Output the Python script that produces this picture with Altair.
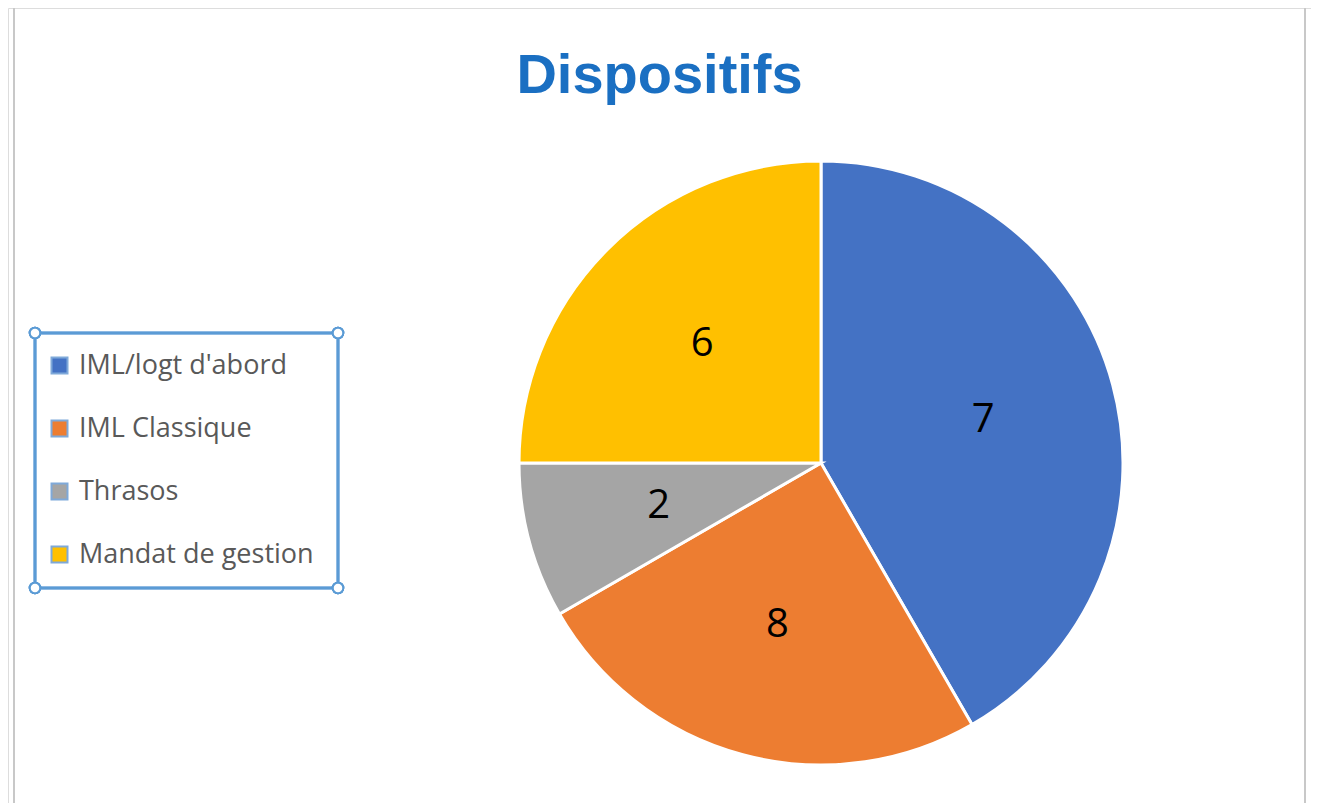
import altair as alt
import pandas as pd

categories = ["IML/logt d'abord", "IML Classique", "Thrasos", "Mandat de gestion"]
slice_values = [10, 6, 2, 6]
shown_labels = ["7", "8", "2", "6"]
colors = ["#4472C4", "#ED7D31", "#A5A5A5", "#FFC000"]

df = pd.DataFrame({
    "cat": categories,
    "value": slice_values,
    "label": shown_labels,
    "idx": list(range(len(categories))),
})

W, H = 1303, 795
CX, CY, R = 813, 455, 302

base = alt.Chart(df).encode(
    theta=alt.Theta("value:Q", stack=True),
    order=alt.Order("idx:Q"),
)

pie = base.mark_arc(outerRadius=R, stroke="white", strokeWidth=3).encode(
    x=alt.value(CX), y=alt.value(CY),
    color=alt.Color(
        "cat:N",
        scale=alt.Scale(domain=categories, range=colors),
        sort=categories,
        legend=alt.Legend(
            title=None, orient="none", legendX=38, legendY=344,
            symbolType="square", symbolSize=256,
            symbolStrokeColor="#7FA9D9", symbolStrokeWidth=2,
            labelFont="Open Sans", labelFontSize=27, labelColor="#595959",
            labelOffset=6, rowPadding=35, padding=0, labelLimit=400,
        ),
    ),
)

labels = base.mark_text(font="Open Sans", fontSize=40, color="black").encode(
    x=alt.value(CX), y=alt.value(CY),
    radius=alt.value(168),
    text="label:N",
)

frame = alt.Chart(df).mark_rect(fill=None, stroke="#C8C8C8", strokeWidth=2).encode(
    x=alt.value(6), x2=alt.value(1297), y=alt.value(-1), y2=alt.value(830)
)

legend_box = alt.Chart(df).mark_rect(fill=None, stroke="#5B9BD5", strokeWidth=2.5).encode(
    x=alt.value(27), x2=alt.value(330), y=alt.value(325), y2=alt.value(580)
)

handles = []
for hx, hy in [(27, 325), (330, 325), (27, 580), (330, 580)]:
    handles.append(
        alt.Chart(df).mark_point(shape="circle", size=110, filled=True, fill="white",
                                 stroke="#5B9BD5", strokeWidth=2, opacity=1).encode(
            x=alt.value(hx), y=alt.value(hy)
        )
    )

chart = alt.layer(frame, pie, labels, legend_box, *handles).properties(
    width=W, height=H,
    title=alt.TitleParams(
        "Dispositifs", font="Liberation Sans", fontSize=56, fontWeight=900,
        color="#1A6FC2", anchor="middle", baseline="alphabetic", dy=143, offset=0,
    ),
    autosize=alt.AutoSizeParams(type="none"),
    padding=0,
).configure_view(stroke=None).configure(background="white")

chart.save("out.html", embed_options={"renderer": "svg", "actions": False})
